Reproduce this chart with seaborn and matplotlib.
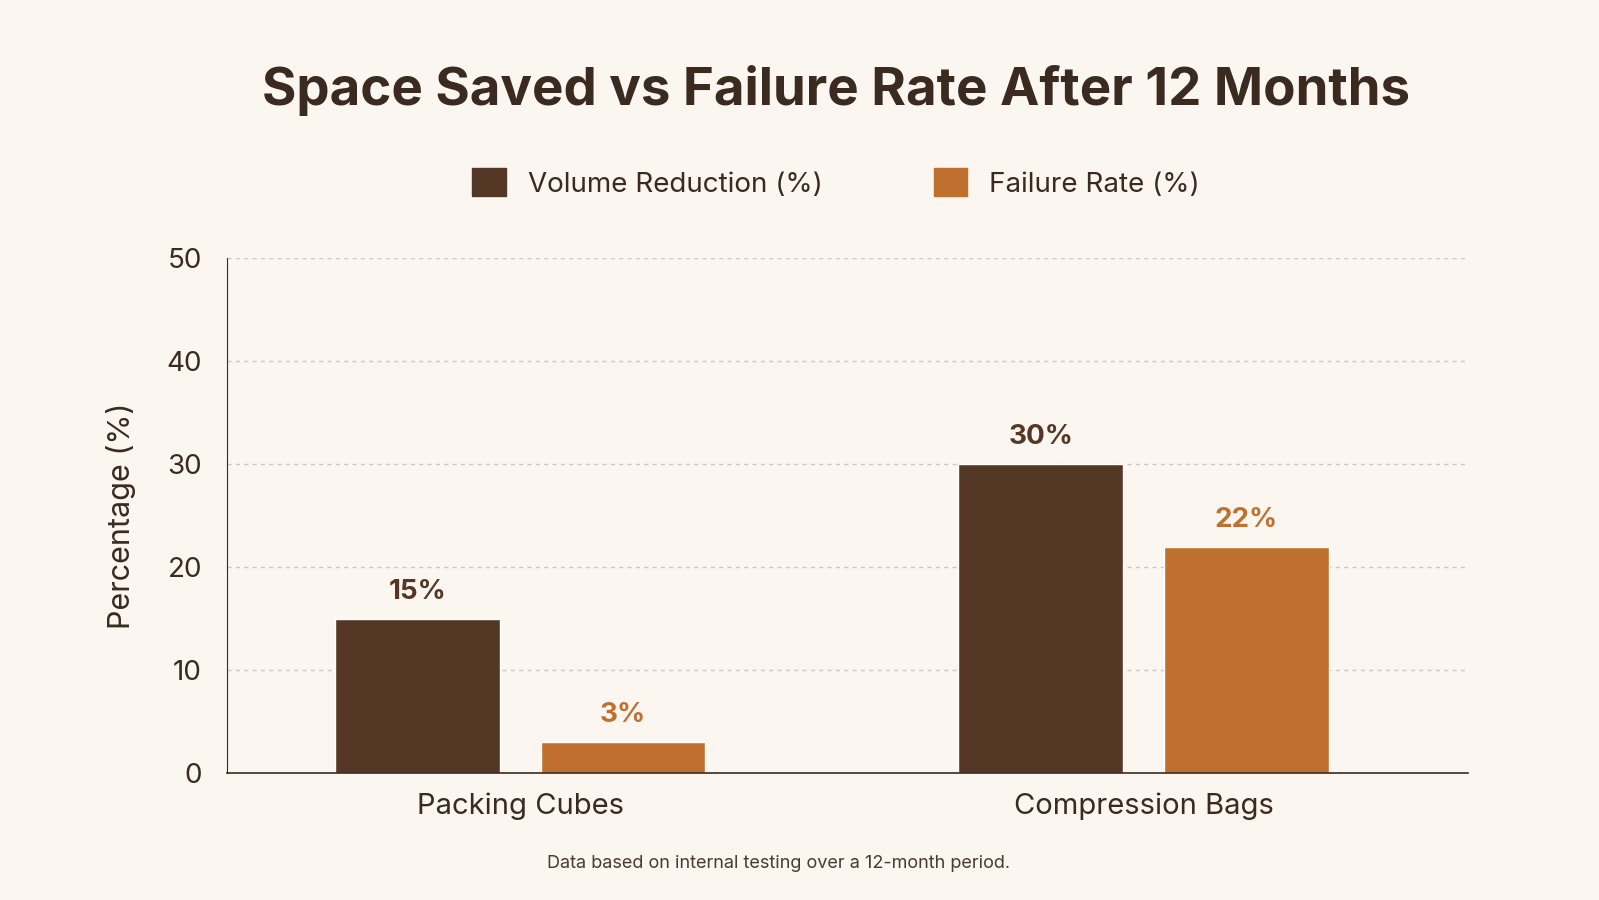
import pandas as pd
import seaborn as sns
import matplotlib.pyplot as plt

categories = ["Packing Cubes", "Compression Bags"]
volume_reduction = [15, 30]
failure_rate = [3, 22]
series = ["Volume Reduction (%)", "Failure Rate (%)"]
colors = ["#553726", "#C0702E"]
bg = "#FBF6EF"

df = pd.DataFrame({
    "category": categories * 2,
    "metric": [series[0]] * 2 + [series[1]] * 2,
    "value": volume_reduction + failure_rate,
})

sns.set_theme(style="white")
plt.rcParams["font.family"] = ["Inter", "DejaVu Sans"]

fig = plt.figure(figsize=(15.99, 9), dpi=100, facecolor=bg)
ax = fig.add_axes([0.142, 0.141, 0.776, 0.572], facecolor=bg)

sns.barplot(data=df, x="category", y="value", hue="metric", palette=colors,
            saturation=1, width=0.66, gap=0.2, ax=ax, legend=False)

for cont, col in zip(ax.containers, colors):
    ax.bar_label(cont, labels=[f"{v:.0f}%" for v in cont.datavalues],
                 padding=10, fontsize=20, fontweight="bold", color=col)

ax.set_xlim(-0.47, 1.52)
ax.set_ylim(0, 50)
ax.set_yticks(range(0, 51, 10))
ax.tick_params(axis="y", labelsize=20, colors="#3a2a20", length=0, pad=18)
ax.tick_params(axis="x", labelsize=21, colors="#3a2a20", length=0, pad=14)
ax.grid(axis="y", linestyle=(0, (3, 3)), color="#cfc8c0", linewidth=1)
ax.set_axisbelow(True)
for s in ["top", "right"]:
    ax.spines[s].set_visible(False)
for s in ["left", "bottom"]:
    ax.spines[s].set_color("#3a2a20")
ax.spines["left"].set_linewidth(0.8)
ax.spines["bottom"].set_linewidth(1.2)
ax.set_xlabel("")
ax.set_ylabel("Percentage (%)", fontsize=22, color="#3a2a20", labelpad=22)

fig.text(0.523, 0.9, "Space Saved vs Failure Rate After 12 Months", ha="center",
         va="center", fontsize=38, fontweight="bold", color="#3a2a20")

handles = [plt.Rectangle((0, 0), 1, 1, color=c) for c in colors]
fig.legend(handles, series, loc="center", bbox_to_anchor=(0.523, 0.797), ncol=2,
           frameon=False, fontsize=20, handlelength=1.2, handleheight=1.2,
           columnspacing=4, labelcolor="#3a2a20")

fig.text(0.487, 0.04, "Data based on internal testing over a 12-month period.",
         ha="center", va="center", fontsize=13, color="#4a3a30")

fig.savefig("out.png", dpi=100, facecolor=bg)
